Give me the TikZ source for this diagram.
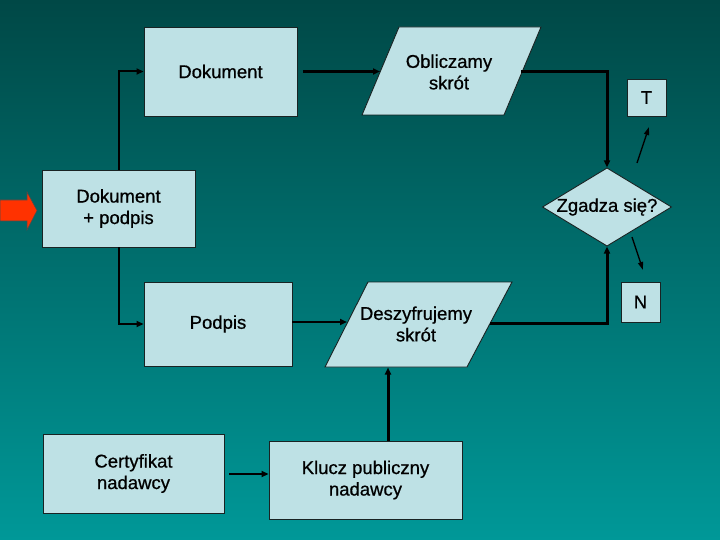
\documentclass[tikz,border=0pt]{standalone}
\usepackage{fontspec}
\setmainfont{Liberation Sans}
\newfontfamily\heavyfont[FakeBold=0.7]{Liberation Sans}
\usetikzlibrary{arrows.meta,shapes.geometric}
\definecolor{bgtop}{RGB}{0,72,70}
\definecolor{bgbot}{RGB}{0,152,152}
\definecolor{boxfill}{RGB}{190,225,229}
\definecolor{boxline}{RGB}{25,35,35}
\definecolor{redarrow}{RGB}{255,50,0}
\tikzset{
  box/.style={draw=boxline, line width=0.9pt, fill=boxfill, inner sep=0pt, align=center,
              font=\heavyfont\fontsize{18.5}{21.5}\selectfont},
  lbl/.style={inner sep=0pt, align=center, font=\heavyfont\fontsize{18.5}{21.5}\selectfont},
  conn/.style={line width=2pt, -{Triangle[length=7pt,width=6pt]}},
  connthick/.style={line width=3pt, -{Triangle[length=7pt,width=6pt]}},
  connthin/.style={line width=1.4pt, -{Triangle[length=8pt,width=5pt]}},
}
\begin{document}
\begin{tikzpicture}[x=1pt,y=-1pt]
\useasboundingbox (0,0) rectangle (720,540);
\shade[top color=bgtop, bottom color=bgbot] (0,0) rectangle (720,540);

% rectangular boxes
\node[box, minimum width=153pt, minimum height=89pt] (dok) at (220.5,71.5) {Dokument};
\node[box, minimum width=153pt, minimum height=77pt] (dp) at (118.5,208.5) {Dokument\\+ podpis};
\node[box, minimum width=148pt, minimum height=84pt] (pod) at (218,324) {Podpis};
\node[box, minimum width=181pt, minimum height=79pt] (cert) at (133.5,473.5) {Certyfikat\\nadawcy};
\node[box, minimum width=193pt, minimum height=78pt] (kl) at (365.5,480) {Klucz publiczny\\nadawcy};
\node[box, minimum width=39pt, minimum height=37pt] (t) at (646.5,97.5) {T};
\node[box, minimum width=39pt, minimum height=40pt] (n) at (640.5,302) {N};

% decision
\node[box, shape=diamond, aspect=1.65, minimum width=129pt, minimum height=78pt] (zg) at (607,207) {Zgadza się?};

% parallelograms
\draw[draw=boxline, line width=0.9pt, fill=boxfill] (362,115) -- (399,27) -- (541,27) -- (504,115) -- cycle;
\node[lbl] (obl) at (449,72) {Obliczamy\\skrót};
\coordinate (oblW) at (380,71.5);
\coordinate (oblE) at (521,71.5);

\draw[draw=boxline, line width=0.9pt, fill=boxfill] (325,367) -- (368,282) -- (512,282) -- (467,367) -- cycle;
\node[lbl] (des) at (416,324) {Deszyfrujemy\\skrót};
\coordinate (desW) at (347,322);
\coordinate (desE) at (490,323);
\coordinate (desS) at (388,367.5);

% red input arrow
\draw[draw=black!70, line width=0.6pt, fill=redarrow]
  (0,200) -- (27,200) -- (27,192) -- (37,210.5) -- (27,230) -- (27,221) -- (0,221) -- cycle;

% connectors
\draw[conn] (dp.north) |- (dok.west);
\draw[conn] (dp.south) |- (pod.west);
\draw[connthick, shorten <=6pt] (dok.east) -- (oblW);
\draw[connthick] (oblE) -| (zg.north);
\draw[conn] (pod.east |- desW) -- (desW);
\draw[connthick] (desE) -| (zg.south);
\draw[connthick] (kl.north -| desS) -- (desS);
\draw[conn, shorten <=5pt] (cert.east |- 0,474) -- (kl.west |- 0,474);

\coordinate (tA) at (637,163);
\coordinate (tB) at (649,127);
\draw[connthin] (tA) -- (tB);
\coordinate (nA) at (632,237);
\coordinate (nB) at (643,270);
\draw[connthin] (nA) -- (nB);
\end{tikzpicture}
\end{document}
